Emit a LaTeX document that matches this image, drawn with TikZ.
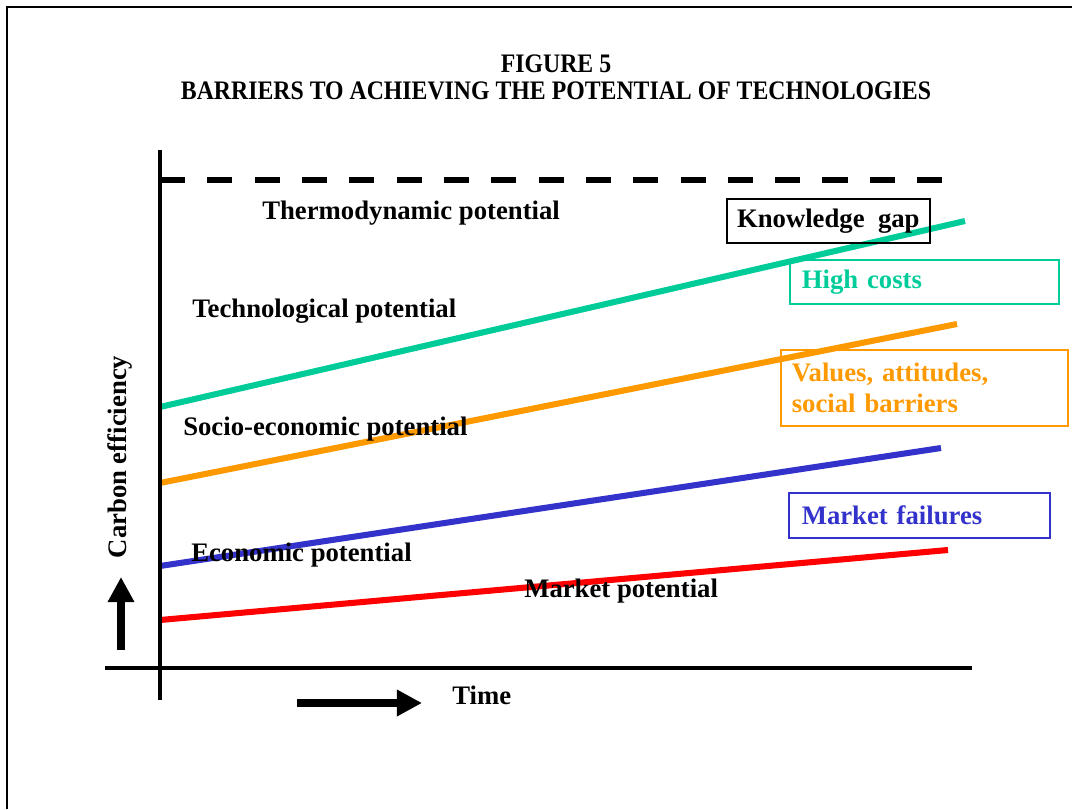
\documentclass[tikz,border=0pt]{standalone}
\usepackage{fontspec}
\setmainfont{Liberation Serif}
\newfontfamily\titlefont[FakeStretch=0.89]{Liberation Serif}
\usetikzlibrary{arrows.meta}
\definecolor{costgreen}{RGB}{0,204,153}
\definecolor{valueorange}{RGB}{255,153,0}
\definecolor{failblue}{RGB}{51,51,204}
\definecolor{marketred}{RGB}{255,0,0}

\begin{document}
\begin{tikzpicture}[x=0.025cm, y=-0.025cm,
  font=\fontsize{19}{22}\selectfont\bfseries,
  axis/.style={line width=3.4pt},
  trend/.style={line width=4.3pt},
  lab/.style={inner sep=0pt, anchor=base west},
  barrier/.style={draw, line width=1.1pt, anchor=north west, align=left, inner ysep=2pt},
  bigarrow/.style={line width=5pt, -{Triangle[length=17.8pt, width=17.8pt]}}]
\useasboundingbox (0,0) rectangle (1072,809);
\draw[line width=1.4pt] (7,809) -- (7,7) -- (1072,7);

\node[inner sep=0pt, anchor=base] (fig) at (556,72) {\titlefont FIGURE 5};
\node[inner sep=0pt, anchor=base] (title) at (556,99) {\titlefont BARRIERS TO ACHIEVING THE POTENTIAL OF TECHNOLOGIES};

\coordinate (thermoL) at (160,180);  \coordinate (thermoR) at (942,180);
\coordinate (techL) at (160,407);    \coordinate (techR) at (965,221);
\coordinate (socioL) at (160,483);   \coordinate (socioR) at (957,324);
\coordinate (econL) at (160,566);    \coordinate (econR) at (941,448);
\coordinate (mktL) at (160,620);     \coordinate (mktR) at (948,550);

\draw[line width=4.6pt, dash pattern=on 17.8pt off 15.85pt] (thermoL) -- (thermoR);
\draw[trend, costgreen] (techL) -- (techR);
\draw[trend, valueorange] (socioL) -- (socioR);
\draw[trend, failblue] (econL) -- (econR);
\draw[trend, marketred] (mktL) -- (mktR);

\coordinate (ytop) at (160,150);   \coordinate (ybot) at (160,700);
\coordinate (xleft) at (105,668);  \coordinate (xright) at (972,668);
\draw[axis] (ytop) -- (ybot);
\draw[line width=3pt] (xleft) -- (xright);

\node[lab] (thermo) at (262,219) {Thermodynamic potential};
\node[lab] (tech) at (192,317) {Technological potential};
\node[lab] (socio) at (183,435) {Socio-economic potential};
\node[lab] (econ) at (191,561) {Economic potential};
\node[lab] (mkt) at (524,597) {Market potential};

\node[draw, line width=1.1pt, anchor=north west, minimum width=5.075cm, minimum height=1.1cm] (gap) at (726,198) {Knowledge\ \ gap};
\node[barrier, draw=costgreen, text=costgreen, text width=6.125cm, inner xsep=0.3cm, minimum height=1.1cm] (cost) at (789,259) {High costs};
\node[barrier, draw=valueorange, text=valueorange, text width=6.625cm, inner xsep=0.275cm, minimum height=1.9cm] (values) at (780,349) {Values, attitudes,\\social barriers};
\node[barrier, draw=failblue, text=failblue, text width=5.875cm, inner xsep=0.325cm, minimum height=1.125cm] (fail) at (788,492) {Market failures};

\node[inner sep=0pt, anchor=base, rotate=90] (carbon) at (126,457) {Carbon efficiency};
\coordinate (upfoot) at (121,650);  \coordinate (uptip) at (121,577);
\draw[bigarrow] (upfoot) -- (uptip);

\node[lab] (time) at (452,704) {Time};
\coordinate (rtfoot) at (297,703);  \coordinate (rttip) at (422,703);
\draw[bigarrow] (rtfoot) -- (rttip);
\end{tikzpicture}
\end{document}
